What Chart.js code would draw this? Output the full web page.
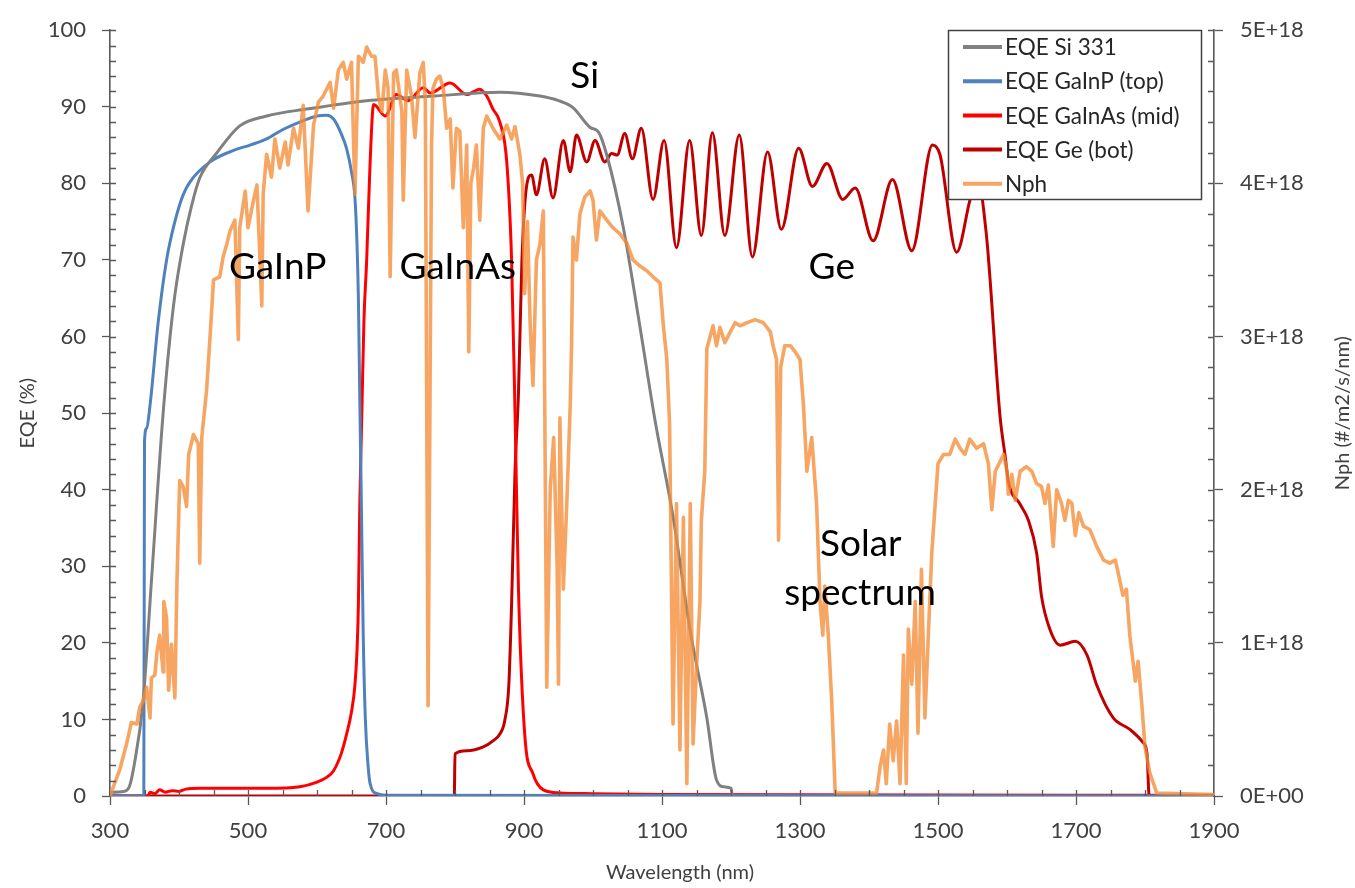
<!DOCTYPE html>
<html>
<head>
<meta charset="utf-8">
<title>Multijunction EQE and solar photon flux</title>
<script src="https://cdn.jsdelivr.net/npm/chart.js@4.4.1/dist/chart.umd.min.js"></script>
<style>
  html, body { margin: 0; padding: 0; background: #fff; }
  #chart { display: block; }
</style>
</head>
<body>
<canvas id="chart" width="1355" height="888"></canvas>
<script>
// Si reference cell EQE (%)
const siWl = [300, 320, 328, 335, 348, 360, 377, 392, 406, 418, 430, 455, 488, 527, 585, 672, 769, 865, 923, 950,
  971, 996, 1008, 1020, 1044, 1068, 1090, 1116, 1141, 1165, 1179, 1190, 1200, 1202];
const siEqe = [0.5, 0.6, 1.2, 4, 12.4, 28, 50, 64, 72, 77, 80.7, 84, 87.5, 88.8, 89.7, 90.8, 91.4, 91.9, 91.4, 90.8,
  89.9, 87.3, 86.7, 83.7, 74.2, 61.3, 49, 36.5, 21.5, 10.2, 2.1, 1.2, 1.0, 0];

// GaInP top cell
const gainpWl = [300, 349, 350, 353, 358, 370, 382, 394, 406, 416, 445, 479, 503, 527, 550, 575, 600, 614, 624, 635,
  643, 650, 655, 658, 660, 662, 664, 667, 670, 674, 677, 687, 700, 1900];
const gainpEqe = [0, 0, 46.3, 48, 51, 62, 70, 75, 78.5, 80.2, 82.8, 84.3, 85, 85.8, 87, 88, 88.8, 88.9, 88.4, 86.5,
  84.5, 81.5, 78.1, 72, 65, 52, 40, 21, 10.2, 4, 1.6, 0.3, 0.1, 0];

// GaInAs middle cell
const gainasWl = [300, 355, 358, 365, 372, 380, 390, 400, 410, 430, 480, 527, 575, 600, 615, 624, 635, 643, 650, 655,
  658, 660, 662, 665, 668, 672, 677, 682, 699, 715, 732, 754, 764, 793, 817, 836, 846, 855, 865, 875,
  882, 887, 892, 901, 913, 928, 952, 1000, 1100, 1900];
const gainasEqe = [0, 0, 0.5, 0.3, 0.8, 0.5, 0.7, 0.6, 0.9, 1.0, 1.0, 1.0, 1.2, 1.8, 2.5, 3.3, 5.5, 8.1, 11, 14.5,
  19, 25, 38, 50, 62, 70, 82.8, 90.3, 88.8, 91.6, 90.8, 92.5, 91.8, 93.1, 91.6, 92.3, 91.4, 89.7, 88, 82.8,
  70, 50, 27, 8.1, 2.9, 0.8, 0.4, 0.3, 0.2, 0.1];

// Ge bottom cell
const geWl = [300, 799, 800, 817, 841, 855, 865, 872, 878, 882, 887, 892, 897, 904, 911, 918, 930, 942, 957, 967,
  976, 991, 1003, 1017, 1027, 1035, 1046, 1057, 1070, 1087, 1103, 1121, 1140, 1157, 1173, 1191, 1212, 1231, 1253, 1273,
  1298, 1318, 1339, 1362, 1380, 1406, 1434, 1462, 1492, 1503, 1527, 1546, 1556, 1570, 1590, 1597, 1602, 1619, 1631, 1643,
  1650, 1662, 1677, 1699, 1716, 1730, 1754, 1778, 1797, 1803, 1806, 1900];
const geEqe = [0, 0, 5.5, 5.9, 6.4, 7.2, 8.1, 9.8, 14.5, 25, 42.4, 52.7, 70, 79.8, 81.1, 78.5, 83.2, 78.1, 85.6, 81.5,
  86.3, 82.8, 85.6, 82.8, 83.9, 83.7, 86.5, 83.2, 87.2, 77.9, 85.6, 71.6, 85.6, 73.2, 86.6, 73.2, 86.3, 70.4, 84.1, 74,
  84.6, 79.6, 82.6, 77.9, 79.4, 72.5, 80.5, 71.2, 85, 83.7, 71, 77.7, 81, 73.4, 49.5, 44.6, 41.1, 38.1, 36, 31.7,
  26.1, 21.8, 19.7, 20.2, 18.4, 14.5, 10.2, 8.7, 7, 5.5, 0, 0];

// solar photon flux, in units of 1E+18 #/m2/s/nm
const nphWl = [
  300, 314, 324, 331, 339, 343, 348, 353, 358, 360,
  365, 368, 372, 377, 378, 382, 385, 389, 394, 397,
  401, 406, 411, 414, 421, 428, 430, 433, 440, 445,
  450, 459, 464, 469, 474, 481, 486, 488, 496, 500,
  508, 513, 520, 522, 527, 534, 539, 546, 554, 558,
  566, 573, 580, 587, 595, 602, 609, 619, 624, 631,
  638, 643, 650, 655, 660, 667, 672, 679, 684, 689,
  694, 699, 703, 706, 711, 715, 723, 725, 730, 737,
  742, 749, 754, 757, 761, 766, 768, 773, 778, 783,
  788, 793, 797, 802, 807, 812, 817, 820, 823, 827,
  831, 836, 841, 846, 855, 865, 875, 882, 887, 894,
  898, 901, 905, 909, 913, 918, 923, 928, 930, 933,
  938, 943, 948, 950, 952, 957, 962, 967, 969, 971,
  976, 981, 988, 996, 1000, 1005, 1010, 1020, 1029, 1039,
  1049, 1058, 1068, 1078, 1087, 1097, 1102, 1107, 1111, 1116,
  1121, 1126, 1131, 1136, 1141, 1145, 1150, 1155, 1157, 1162,
  1165, 1174, 1179, 1184, 1191, 1199, 1206, 1213, 1223, 1235,
  1247, 1257, 1261, 1266, 1269, 1272, 1278, 1286, 1293, 1300,
  1305, 1310, 1317, 1324, 1329, 1333, 1336, 1341, 1346, 1351,
  1411, 1416, 1421, 1425, 1430, 1435, 1440, 1445, 1450, 1454,
  1457, 1462, 1467, 1471, 1476, 1481, 1486, 1491, 1496, 1500,
  1508, 1517, 1525, 1532, 1539, 1546, 1556, 1566, 1573, 1578,
  1583, 1595, 1600, 1602, 1607, 1612, 1619, 1628, 1636, 1643,
  1650, 1655, 1660, 1667, 1672, 1679, 1684, 1689, 1694, 1699,
  1704, 1711, 1720, 1730, 1740, 1749, 1757, 1761, 1768, 1773,
  1778, 1786, 1790, 1795, 1800, 1807, 1817, 1900];
const nphE18 = [
  0, 0.17, 0.34, 0.48, 0.47, 0.58, 0.62, 0.71, 0.51, 0.77,
  0.79, 0.94, 1.05, 0.81, 1.27, 1.16, 0.69, 0.99, 0.64, 1.39,
  2.06, 2.02, 1.89, 2.23, 2.36, 2.3, 1.52, 2.34, 2.65, 3.0,
  3.37, 3.39, 3.52, 3.6, 3.69, 3.76, 2.98, 3.71, 3.95, 3.71,
  3.89, 3.99, 3.2, 3.93, 4.19, 4.04, 4.29, 4.1, 4.27, 4.12,
  4.36, 4.23, 4.51, 3.82, 4.38, 4.53, 4.57, 4.66, 4.49, 4.74,
  4.79, 4.68, 4.79, 3.93, 4.83, 4.79, 4.89, 4.83, 4.83, 4.57,
  4.47, 4.74, 4.62, 3.39, 4.72, 4.74, 4.47, 3.89, 4.74, 4.57,
  4.3, 4.72, 4.79, 4.53, 0.59, 4.25, 4.62, 4.68, 4.7, 4.62,
  4.36, 4.42, 3.97, 4.36, 4.34, 3.71, 4.25, 2.9, 4.0, 4.1,
  4.25, 3.76, 4.36, 4.44, 4.36, 4.29, 4.38, 4.29, 4.37, 4.19,
  4.0, 3.28, 3.75, 3.07, 2.68, 3.5, 3.6, 3.82, 2.6, 0.71,
  2.0, 2.34, 1.5, 0.73, 2.47, 1.35, 1.91, 2.55, 2.96, 3.65,
  3.5, 3.8, 3.91, 3.95, 3.89, 3.63, 3.82, 3.76, 3.71, 3.67,
  3.61, 3.5, 3.46, 3.43, 3.39, 3.35, 3.07, 2.85, 2.43, 0.47,
  1.91, 0.3, 1.82, 0.08, 1.91, 0.34, 0.84, 1.27, 1.8, 2.12,
  2.92, 3.07, 2.94, 3.06, 2.96, 3.03, 3.09, 3.07, 3.09, 3.11,
  3.09, 3.03, 2.94, 2.85, 1.67, 2.8, 2.94, 2.94, 2.9, 2.85,
  2.55, 2.12, 2.34, 1.91, 1.27, 1.05, 1.37, 1.05, 0.62, 0.02,
  0.02, 0.19, 0.3, 0.08, 0.47, 0.23, 0.49, 0.08, 0.92, 0.08,
  1.09, 0.73, 1.27, 0.41, 1.48, 0.51, 1.05, 1.59, 1.91, 2.17,
  2.23, 2.23, 2.33, 2.27, 2.23, 2.33, 2.27, 2.3, 2.17, 1.87,
  2.12, 2.23, 2.12, 1.97, 2.1, 1.93, 2.12, 2.15, 2.12, 2.04,
  2.02, 1.91, 2.03, 1.63, 2.0, 1.91, 1.8, 1.93, 1.91, 1.7,
  1.85, 1.76, 1.74, 1.63, 1.54, 1.52, 1.54, 1.46, 1.31, 1.35,
  1.05, 0.75, 0.88, 0.62, 0.32, 0.15, 0.02, 0.01];

const wavelengthTicks = [300, 500, 700, 900, 1100, 1300, 1500, 1700, 1900];
const eqeTicks = [0, 10, 20, 30, 40, 50, 60, 70, 80, 90, 100];
const nphTickLabels = ['0E+00', '1E+18', '2E+18', '3E+18', '4E+18', '5E+18'];

// text placed inside the plot: [text, wavelength at centre, EQE at baseline]
const regionLabels = [
  ['GaInP', 543, 67.5],
  ['GaInAs', 804, 67.5],
  ['Si', 988, 92.4],
  ['Ge', 1346, 67.5],
  ['Solar', 1388, 31.3],
  ['spectrum', 1387, 24.9],
];

const AXIS_COLOR = '#595959';
const TEXT_COLOR = '#404040';
const FONT = 'Lato, "Open Sans", sans-serif';

const toPoints = (xs, ys) => xs.map((x, i) => ({ x, y: ys[i] }));

const decorations = {
  id: 'decorations',
  afterDraw(chart) {
    const { ctx, chartArea: a, scales } = chart;
    const { x, y, y2 } = scales;
    ctx.save();

    // minor tick marks, pointing into the plot
    ctx.strokeStyle = AXIS_COLOR;
    ctx.lineWidth = 1.3;
    ctx.beginPath();
    for (let v = 350; v < 1900; v += 50) {
      const px = Math.round(x.getPixelForValue(v)) + 0.5;
      ctx.moveTo(px, a.bottom);
      ctx.lineTo(px, a.bottom - 6);
    }
    for (let v = 2; v <= 100; v += 2) {
      const py = Math.round(y.getPixelForValue(v)) + 0.5;
      ctx.moveTo(a.left, py);
      ctx.lineTo(a.left + 6, py);
    }
    for (let k = 1; k <= 25; k++) {
      const py = Math.round(y2.getPixelForValue(k * 0.2)) + 0.5;
      ctx.moveTo(a.right, py);
      ctx.lineTo(a.right - 6, py);
    }
    ctx.stroke();

    // axis titles
    ctx.fillStyle = TEXT_COLOR;
    ctx.font = '20px ' + FONT;
    ctx.textAlign = 'center';
    ctx.textBaseline = 'middle';
    ctx.fillText('Wavelength (nm)', (a.left + a.right) / 2 + 18, 873);
    ctx.save();
    ctx.translate(28, (a.top + a.bottom) / 2);
    ctx.rotate(-Math.PI / 2);
    ctx.fillText('EQE (%)', 0, 0);
    ctx.restore();
    ctx.save();
    ctx.translate(1343, (a.top + a.bottom) / 2);
    ctx.rotate(-Math.PI / 2);
    ctx.fillText('Nph (#/m2/s/nm)', 0, 0);
    ctx.restore();

    // region names
    ctx.fillStyle = '#000';
    ctx.font = '37px ' + FONT;
    ctx.textBaseline = 'alphabetic';
    regionLabels.forEach(([text, wl, eqe]) => {
      ctx.fillText(text, x.getPixelForValue(wl), y.getPixelForValue(eqe));
    });

    // legend box
    const box = { left: 948, top: 30, right: 1201, bottom: 199 };
    ctx.fillStyle = '#fff';
    ctx.fillRect(box.left, box.top, box.right - box.left, box.bottom - box.top);
    ctx.strokeStyle = '#404040';
    ctx.lineWidth = 1.5;
    ctx.strokeRect(box.left + 0.5, box.top + 0.5, box.right - box.left, box.bottom - box.top);
    ctx.font = '22.5px ' + FONT;
    ctx.textAlign = 'left';
    ctx.textBaseline = 'middle';
    chart.data.datasets.forEach((ds, i) => {
      const ly = 47 + i * 34.2;
      ctx.strokeStyle = ds.borderColor;
      ctx.lineWidth = 4;
      ctx.beginPath();
      ctx.moveTo(963, ly);
      ctx.lineTo(1002, ly);
      ctx.stroke();
      ctx.fillStyle = '#262626';
      ctx.fillText(ds.label, 1005, ly + 1);
    });

    ctx.restore();
  }
};

const axisGrid = (len) => ({
  display: true,
  drawOnChartArea: false,
  drawTicks: true,
  tickLength: len,
  tickWidth: 1.3,
  tickColor: AXIS_COLOR,
});
const axisBorder = { display: true, color: AXIS_COLOR, width: 1.6 };
const tickFont = { family: FONT, size: 22 };

new Chart(document.getElementById('chart'), {
  type: 'line',
  data: {
    datasets: [
      { label: 'EQE Si 331', data: toPoints(siWl, siEqe), borderColor: '#808080', yAxisID: 'y', cubicInterpolationMode: 'monotone' },
      { label: 'EQE GaInP (top)', data: toPoints(gainpWl, gainpEqe), borderColor: '#4F81BD', yAxisID: 'y', cubicInterpolationMode: 'monotone' },
      { label: 'EQE GaInAs (mid)', data: toPoints(gainasWl, gainasEqe), borderColor: '#FF0000', yAxisID: 'y', cubicInterpolationMode: 'monotone' },
      { label: 'EQE Ge (bot)', data: toPoints(geWl, geEqe), borderColor: '#C00000', yAxisID: 'y', cubicInterpolationMode: 'monotone' },
      { label: 'Nph', data: toPoints(nphWl, nphE18), borderColor: 'rgba(245,140,55,0.78)', yAxisID: 'y2', tension: 0, borderWidth: 3.6, order: -1 },
    ]
  },
  options: {
    responsive: false,
    animation: false,
    devicePixelRatio: 1,
    layout: { padding: { top: 20, left: 0, right: 0, bottom: 0 } },
    datasets: { line: { pointRadius: 0, borderWidth: 3, fill: false, borderJoinStyle: 'round', borderCapStyle: 'round' } },
    plugins: { legend: { display: false }, tooltip: { enabled: false } },
    scales: {
      x: {
        type: 'linear',
        min: 300,
        max: 1900,
        afterBuildTicks: (s) => { s.ticks = wavelengthTicks.map(v => ({ value: v })); },
        afterFit: (s) => { s.height = 92; },
        grid: axisGrid(9),
        border: axisBorder,
        ticks: { font: tickFont, color: TEXT_COLOR, padding: 13, maxRotation: 0, callback: (v) => String(v) },
      },
      y: {
        position: 'left',
        min: 0,
        max: 100,
        afterBuildTicks: (s) => { s.ticks = eqeTicks.map(v => ({ value: v })); },
        afterFit: (s) => { s.width = 110; },
        grid: axisGrid(8),
        border: axisBorder,
        ticks: { font: tickFont, color: TEXT_COLOR, padding: 16, callback: (v) => String(v) },
      },
      y2: {
        position: 'right',
        min: 0,
        max: 5,
        afterBuildTicks: (s) => { s.ticks = nphTickLabels.map((_, i) => ({ value: i })); },
        afterFit: (s) => { s.width = 141; },
        grid: axisGrid(9),
        border: axisBorder,
        ticks: { font: tickFont, color: TEXT_COLOR, padding: 17, callback: (v) => nphTickLabels[Math.round(v)] },
      },
    }
  },
  plugins: [decorations]
});
</script>
</body>
</html>
